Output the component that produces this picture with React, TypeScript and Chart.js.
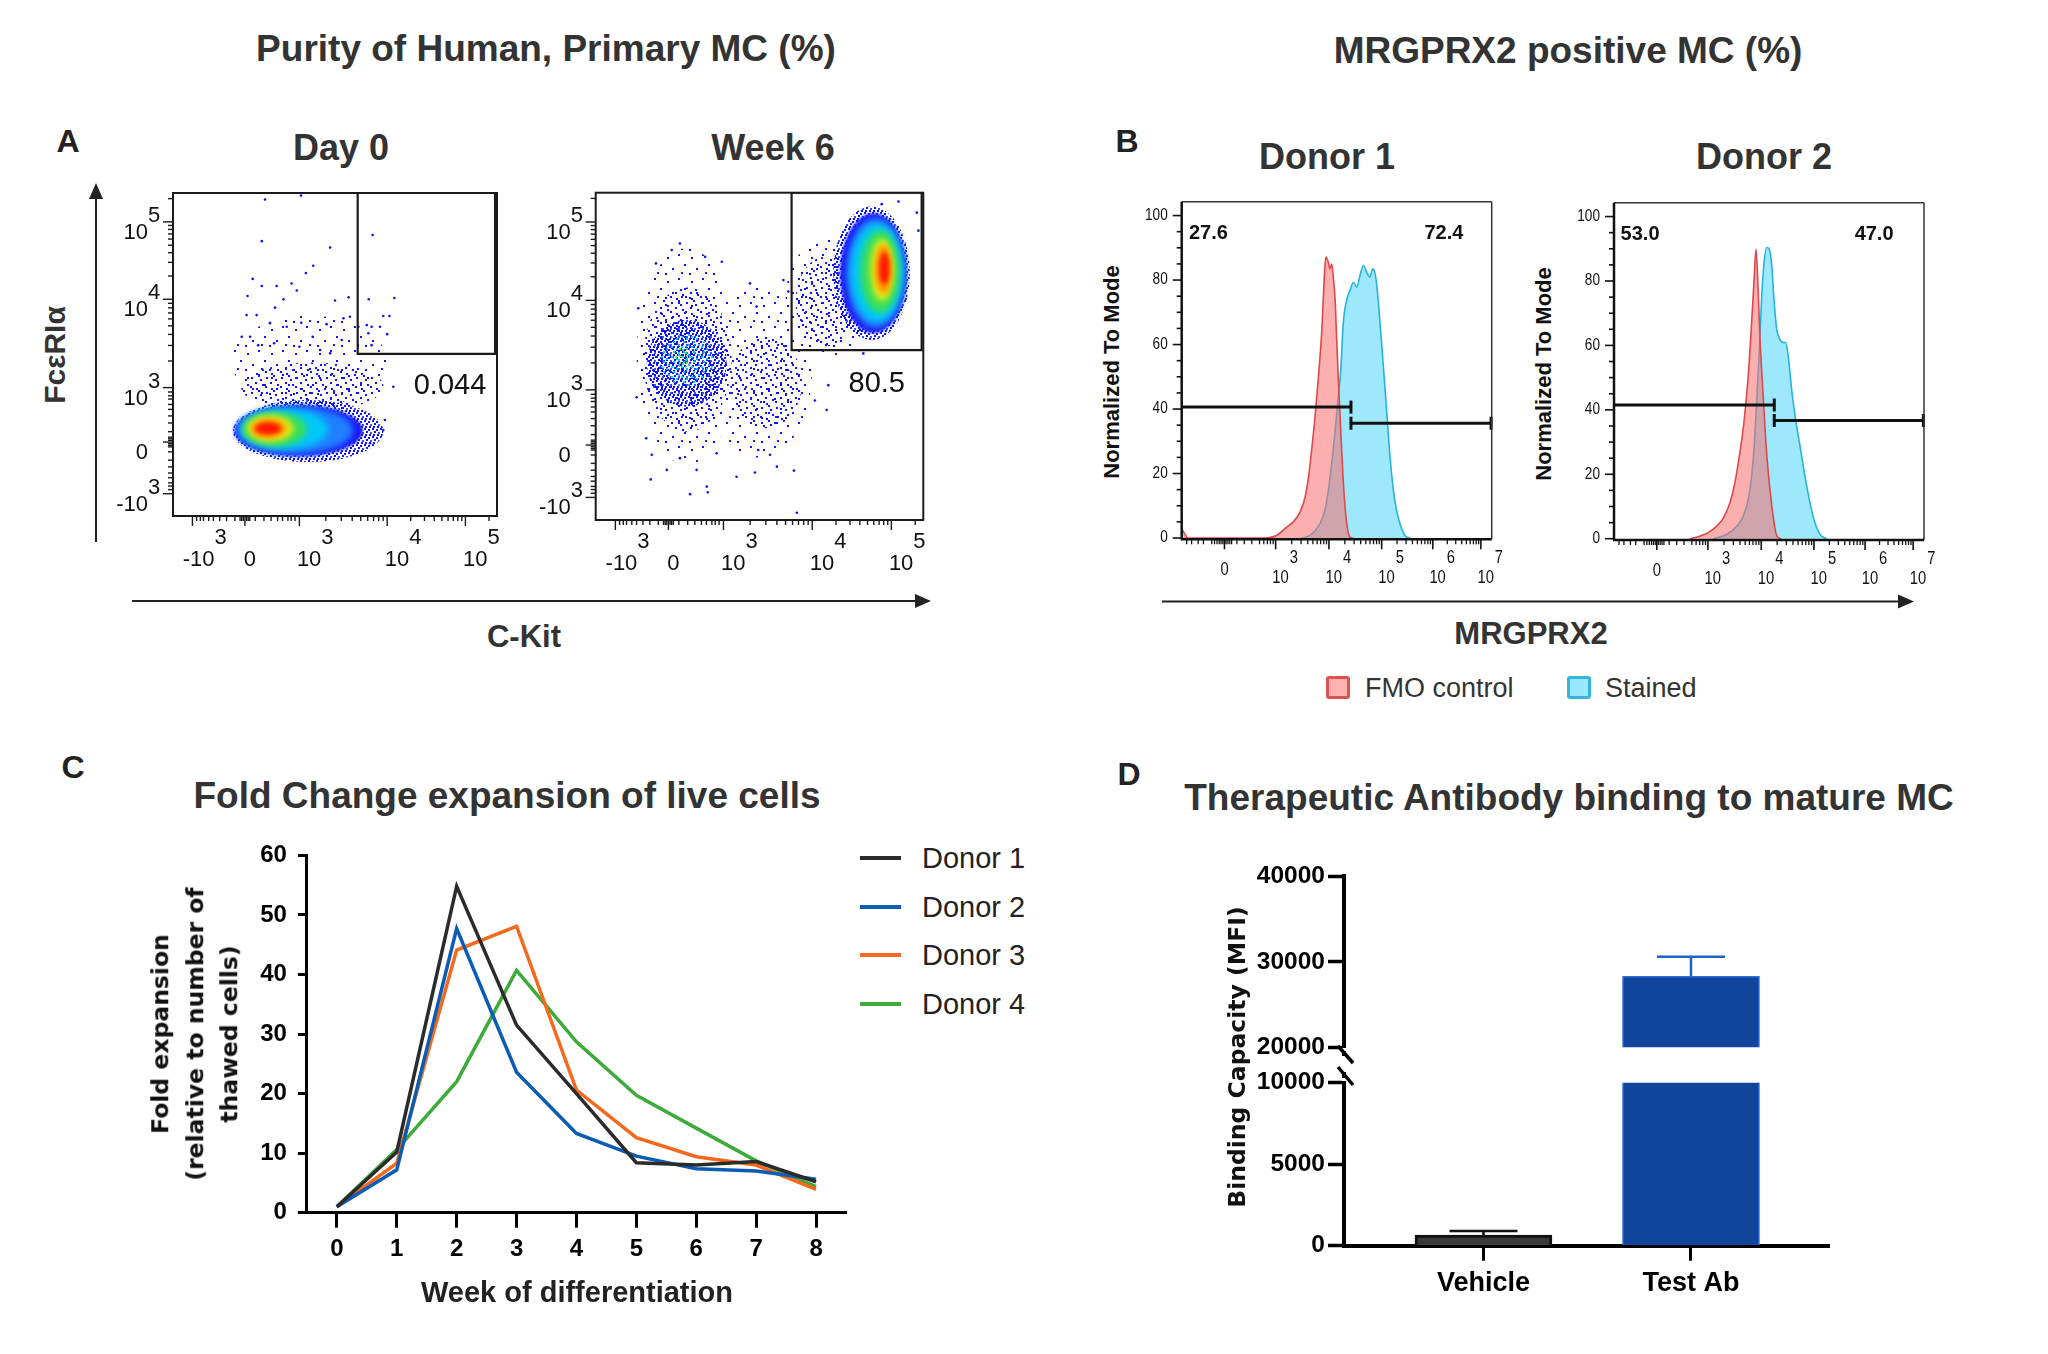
import React, { useEffect, useRef } from 'react';
import { Chart, registerables } from 'chart.js';

Chart.register(...registerables);

const FONT = "'Liberation Sans', Arial, Helvetica, sans-serif";
const WIDE = "'DejaVu Sans', Verdana, sans-serif";
Chart.defaults.font.family = FONT;
Chart.defaults.color = '#000';

// ---------------- Panel A : flow cytometry (display channel units 0-100) ----------------
const A_X_TICKS = [6, 22.2, 39, 66.1, 90.25];
const A_Y_TICKS = [6.9, 22.9, 39.75, 67.1, 91.05];
const A_TICK_BASE = ['-10', '0', '10', '10', '10'];
const A_TICK_EXP = ['3', '', '3', '4', '5'];
const BIEX_LIN_FRACTIONS = [0.19, 0.35, 0.48, 0.6, 0.69, 0.79, 0.85, 0.92];
const BIEX_ZERO_CLUSTER = [-1.5, -1, -0.5, 0.5, 1, 1.5];

// density contours: [level, cx, cy, rx, ry]
const DAY0_DENSITY = [
  [1, 42, 48, 24, 14],
  [2, 43, 40, 22, 7.5],
  [3, 41.7, 26.3, 23.2, 9.6],
  [4, 38.8, 26.4, 19.8, 8.0],
  [5, 37.5, 26.6, 18.0, 7.4],
  [6, 34.5, 26.9, 13.5, 6.2],
  [7, 31.3, 26.9, 10.0, 5.3],
  [8, 30.0, 27.1, 7.2, 4.1],
  [9, 29.5, 27.1, 5.4, 3.0],
  [10, 29.3, 27.1, 4.0, 1.9],
];
const WEEK6_DENSITY = [
  [1, 27.8, 50, 15.3, 33],
  [1, 50, 45, 16, 26],
  [1, 71, 68, 13, 18],
  [2, 28, 49, 13.5, 22],
  [2, 52, 42, 11, 14],
  [2, 70, 66.7, 9, 13.7],
  [3, 27.8, 47.9, 12.2, 13.3],
  [11, 27.8, 48.9, 8.2, 8.2],
  [12, 26.8, 49.9, 2.5, 3.5],
  [3, 84.2, 75.4, 11.7, 20.4],
  [4, 84.8, 75.4, 10.2, 18.3],
  [5, 85.5, 75.5, 9.0, 16.8],
  [6, 85.8, 75.6, 8.0, 15.0],
  [7, 86.8, 75.9, 6.1, 12.7],
  [8, 87.4, 76.4, 3.6, 9.5],
  [9, 87.8, 76.6, 2.6, 7.5],
  [10, 88.1, 76.9, 1.6, 5.0],
];
const DAY0_EVENTS = [
  [28.4, 98.0], [39.5, 99.2], [27.4, 85.1], [48.5, 83.1], [43.3, 77.5], [41.0, 75.2], [61.6, 87.0],
  [24.6, 73.4], [27.4, 71.2], [32.0, 71.2], [36.6, 72.0], [38.2, 69.8], [23.0, 68.1], [34.1, 67.1],
  [50.0, 66.7], [54.2, 67.7], [60.4, 67.1], [68.3, 67.5], [64.9, 61.9], [66.8, 61.9], [59.8, 59.1],
  [61.3, 58.6], [60.3, 56.6], [63.9, 58.6], [66.1, 56.3], [61.3, 52.9], [68.0, 40.0], [65.4, 29.7],
  [64.9, 26.6], [60.8, 22.5], [25.8, 62.2], [22.7, 62.2], [21.2, 55.5], [29.9, 59.7], [35.1, 58.6],
  [39.6, 59.8], [43.1, 55.5], [47.4, 59.4], [52.6, 61.2], [54.6, 61.7], [57.2, 58.6], [31.5, 64.5],
  [23.8, 55.5], [26.3, 52.9], [31.2, 53.5], [39.0, 52.4], [45.4, 51.4], [52.1, 54.5], [48.5, 50.4],
];
const WEEK6_EVENTS = [
  [25.7, 84.5], [23.2, 82.5], [33.4, 80.4], [38.5, 78.9], [18.4, 78.4], [13.0, 64.7], [12.5, 37.5],
  [15.4, 25.0], [17.1, 19.9], [16.8, 12.4], [28.8, 7.9], [34.2, 8.5], [33.9, 10.2], [43.0, 13.2],
  [48.6, 14.5], [55.3, 16.3], [60.5, 15.1], [61.4, 2.2], [71.0, 41.2], [70.5, 33.6], [66.9, 36.5],
  [81.7, 50.9], [98.5, 88.4], [92.4, 97.3], [87.3, 96.5], [98.0, 93.9], [47.1, 72.3], [49.1, 65.2],
  [57.3, 73.3], [58.8, 69.8], [21.7, 15.3], [25.7, 18.9], [30.8, 15.3], [36.9, 20.4], [53.2, 19.9],
  [49.6, 21.4],
];
const DAY0_GATE = [57, 50.2, 99.4, 100];
const WEEK6_GATE = [59.8, 51.9, 99.5, 100];
const DAY0_GATE_PCT = '0.044';
const WEEK6_GATE_PCT = '80.5';
const DAY0_GATE_LABEL = [85.5, 40.3];
const WEEK6_GATE_LABEL = [85.8, 41.6];

// ---------------- Panel B : histograms ----------------
const HIST_X_TICKS = [13.8, 30.3, 47.5, 64.5, 81, 96.5];
const HIST_X_BASE = ['0', '10', '10', '10', '10', '10'];
const HIST_X_EXP = ['', '3', '4', '5', '6', '7'];
const HIST_NEAR0_TICKS = [1.6, 3.2, 5.3, 7.0, 9.7, 10.6, 11.4, 12.1, 12.7, 13.3, 14.3, 14.9, 15.5, 16.1, 17.8, 20.2, 22.6];
const HIST_Y_TICKS = [0, 20, 40, 60, 80, 100];

const D1_FMO = [
  [0, 2.8], [0.8, 1.6], [2, 0], [26.3, 0], [30.6, 0.8], [33.9, 3.4], [36, 5], [38.2, 8.1], [39.8, 12.7],
  [40.9, 18.9], [41.9, 27.2], [43, 37.5], [44.1, 49.9], [45.2, 64.4], [46, 80.9], [46.5, 87.1], [47.3, 85.5],
  [47.8, 83.5], [48.4, 85], [48.9, 80.9], [49.5, 73.7], [50, 61.3], [50.5, 49.9], [51.1, 37.5], [51.6, 27.2],
  [52.1, 17.9], [52.7, 9.6], [53.4, 3.4], [54.3, 0.3], [55.4, 0],
];
const D1_STAINED = [
  [38.7, 0], [41.4, 0.8], [44.6, 4.5], [46.2, 8.6], [47.3, 14.8], [48.4, 23.1], [49.5, 33.4], [50.5, 43.7],
  [51.3, 52], [52.1, 66.4], [53.2, 73.7], [54.3, 76.8], [55.4, 79.3], [56.5, 77.8], [57.5, 81.4], [58.6, 84.5],
  [59.7, 82.4], [60.7, 80.9], [61.6, 83.5], [62.4, 81.9], [63.1, 76.8], [64, 66.4], [65, 54], [66.1, 39.6],
  [67.2, 25.1], [68.3, 14.8], [69.3, 8.6], [70.4, 4.5], [72, 0.8], [73.7, 0],
];
const D2_FMO = [
  [24.5, 0], [27.7, 0.8], [30.4, 1.9], [33.1, 3.9], [35.3, 6.5], [37.4, 11.2], [39, 17.4], [40.6, 26.7],
  [41.9, 36], [43.3, 50.5], [44.4, 67.1], [45.2, 80.5], [45.8, 89.8], [46.5, 77.4], [47.1, 61.9], [48, 46.4],
  [49.3, 25.7], [50.9, 10.2], [52.5, 0.9], [54, 0],
];
const D2_STAINED = [
  [32, 0], [36.3, 1.3], [39.6, 3.9], [41.7, 7], [43.3, 12.2], [44.4, 19.4], [45.3, 29.8], [46, 42.2],
  [46.9, 58.8], [47.6, 74.3], [48.4, 85.7], [49.3, 90.4], [50.1, 89.8], [50.9, 84.7], [51.6, 74.3], [52.5, 65],
  [53.5, 61.9], [54.6, 60.9], [55.4, 60.9], [56.2, 56.7], [57.3, 46.4], [58.4, 38.1], [60, 28.8], [61.6, 19.4],
  [63.2, 11.2], [64.8, 5], [66.5, 1.3], [68.6, 0],
];
const D1_GATES = [[0, 54.6, 40.6], [54.6, 99.8, 35.6]];
const D2_GATES = [[0, 51.7, 41.5], [51.7, 99.8, 36.7]];
const D1_GATE_TEXT = [['27.6', 8.6, 94.3], ['72.4', 84.6, 94.3]];
const D2_GATE_TEXT = [['53.0', 8.4, 94.5], ['47.0', 83.9, 94.5]];
const HIST_SERIES = ['FMO control', 'Stained'];

// ---------------- Panel C : fold expansion ----------------
const WEEKS = [0, 1, 2, 3, 4, 5, 6, 7, 8];
const C_Y_TICKS = [0, 10, 20, 30, 40, 50, 60];
const DONOR_NAMES = ['Donor 1', 'Donor 2', 'Donor 3', 'Donor 4'];
const DONOR1 = [1, 10.2, 54.8, 31.5, 20.0, 8.4, 8.0, 8.6, 5.2];
const DONOR2 = [1, 7.2, 47.7, 23.6, 13.3, 9.5, 7.4, 7.0, 5.6];
const DONOR3 = [1, 8.3, 44.1, 48.1, 20.6, 12.6, 9.4, 8.0, 3.9];
const DONOR4 = [1, 10.6, 22.0, 40.7, 28.7, 19.7, 14.2, 8.7, 4.4];
const DONOR_COLORS = ['#2b2b2b', '#0b5cb5', '#f4691e', '#3dab3a'];

// ---------------- Panel D : binding ----------------
const BAR_LABELS = ['Vehicle', 'Test Ab'];
const BAR_MEANS = [650, 28300];
const BAR_SD = [250, 2300];
const D_LOWER_TICKS = [0, 5000, 10000];
const D_UPPER_TICKS = [20000, 30000, 40000];
const BAR_FILL = ['#3a3a3a', '#11449b'];
const BAR_BORDER = ['#111111', '#2f6fd6'];
const ERR_COLOR = ['#111111', '#1f63c9'];

// ---------------- drawing helpers ----------------
function line(ctx: any, x1: number, y1: number, x2: number, y2: number) {
  ctx.beginPath();
  ctx.moveTo(x1, y1);
  ctx.lineTo(x2, y2);
  ctx.stroke();
}
function narrow(ctx: any, t: string, x: number, y: number, align: string, sx: number) {
  ctx.save();
  ctx.translate(x, y);
  ctx.scale(sx, 1);
  ctx.textAlign = align;
  ctx.fillText(t, 0, 0);
  ctx.restore();
}
function biexMinor(M: number[]) {
  const out: number[] = [];
  for (const f of BIEX_LIN_FRACTIONS) {
    out.push(M[1] + (M[2] - M[1]) * f);
    out.push(M[1] - (M[1] - M[0]) * f);
  }
  for (const o of BIEX_ZERO_CLUSTER) out.push(M[1] + o);
  for (let d = 2; d < 4; d++) for (let k = 2; k <= 9; k++) out.push(M[d] + (M[d + 1] - M[d]) * Math.log10(k));
  for (let k = 2; k <= 9; k++) {
    const v = M[4] + (M[4] - M[3]) * Math.log10(k);
    if (v < 99.5) out.push(v);
  }
  return out;
}
function histMinor() {
  const H = HIST_X_TICKS;
  const out: number[] = [...HIST_NEAR0_TICKS];
  for (let k = 5; k <= 9; k++) out.push(H[1] - (H[2] - H[1]) * (1 - Math.log10(k)));
  for (let d = 1; d < 5; d++) for (let k = 2; k <= 9; k++) out.push(H[d] + (H[d + 1] - H[d]) * Math.log10(k));
  return out;
}

const BLUE = '#1212ff';
const PATTERNS: Record<string, { size: number; dots: any[] }> = {
  p1: { size: 24, dots: [[3, 5, BLUE], [14, 2, BLUE], [20, 12, BLUE], [8, 16, BLUE], [17, 20, BLUE], [1, 21, BLUE]] },
  p2: { size: 15, dots: [[1, 2, BLUE], [8, 0, BLUE], [5, 7, BLUE], [12, 9, BLUE], [0, 11, BLUE], [10, 4, BLUE], [6, 13, BLUE]] },
  p3: { size: 8, dots: [[0, 0, BLUE], [4, 1, BLUE], [2, 3, BLUE], [6, 4, '#2a55ff'], [1, 6, BLUE], [5, 6, BLUE]] },
  pc: { size: 10, dots: [[3, 1, '#00c8ff'], [8, 4, '#30a8ff'], [1, 6, '#00e0ff'], [6, 8, '#10b8ff']] },
  pg: { size: 7, dots: [[1, 1, '#40e080'], [4, 4, '#00e0c0'], [5, 0, '#80e040']] },
};
const LEVEL_STYLES: Record<number, any> = {
  1: { pattern: 'p1' }, 2: { pattern: 'p2' }, 3: { pattern: 'p3' },
  4: { color: '#1a1aff', blur: 1.5 }, 5: { color: '#2080ff', blur: 3 }, 6: { color: '#00c8f8', blur: 3 },
  7: { color: '#36df5a', blur: 3 }, 8: { color: '#e8ea14', blur: 3 }, 9: { color: '#ff9800', blur: 2.5 },
  10: { color: '#ff1a00', blur: 2 }, 11: { pattern: 'pc' }, 12: { pattern: 'pg' },
};
function getPattern(ctx: any, key: string) {
  const spec = PATTERNS[key];
  const c = document.createElement('canvas');
  c.width = spec.size;
  c.height = spec.size;
  const g = c.getContext('2d')!;
  for (const [x, y, col] of spec.dots) {
    g.fillStyle = col;
    g.fillRect(x, y, 2, 2);
  }
  return ctx.createPattern(c, 'repeat');
}

function densityPlugin(layers: number[][]) {
  return {
    id: 'flowDensity',
    beforeDatasetsDraw(chart: any) {
      const { ctx, chartArea: a, scales } = chart;
      const x = scales.x, y = scales.y;
      ctx.save();
      ctx.beginPath();
      ctx.rect(a.left, a.top, a.right - a.left, a.bottom - a.top);
      ctx.clip();
      for (const [lvl, cx, cy, rx, ry] of layers) {
        const st = LEVEL_STYLES[lvl];
        const px = x.getPixelForValue(cx), py = y.getPixelForValue(cy);
        const prx = Math.abs(x.getPixelForValue(cx + rx) - px);
        const pry = Math.abs(y.getPixelForValue(cy + ry) - py);
        ctx.filter = st.blur ? `blur(${st.blur}px)` : 'none';
        ctx.fillStyle = st.pattern ? getPattern(ctx, st.pattern) : st.color;
        ctx.beginPath();
        ctx.ellipse(px, py, prx, pry, 0, 0, Math.PI * 2);
        ctx.fill();
      }
      ctx.filter = 'none';
      ctx.restore();
    },
  };
}

function scatterAxesPlugin(gateText: string, gateLabel: number[]) {
  return {
    id: 'scatterAxes',
    afterDatasetsDraw(chart: any) {
      const { ctx, chartArea: a, scales } = chart;
      const x = scales.x, y = scales.y;
      ctx.save();
      ctx.fillStyle = '#111';
      ctx.textBaseline = 'middle';
      ctx.font = `29px ${FONT}`;
      ctx.textAlign = 'center';
      ctx.fillText(gateText, x.getPixelForValue(gateLabel[0]), y.getPixelForValue(gateLabel[1]));
      ctx.strokeStyle = '#1a1a1a';
      ctx.lineWidth = 2;
      ctx.strokeRect(a.left, a.top, a.right - a.left, a.bottom - a.top);
      ctx.lineWidth = 1.4;
      for (const v of A_X_TICKS) { const p = x.getPixelForValue(v); line(ctx, p, a.bottom, p, a.bottom + 10); }
      for (const v of biexMinor(A_X_TICKS)) { const p = x.getPixelForValue(v); line(ctx, p, a.bottom, p, a.bottom + 5); }
      for (const v of A_Y_TICKS) { const p = y.getPixelForValue(v); line(ctx, a.left, p, a.left - 10, p); }
      for (const v of biexMinor(A_Y_TICKS)) { const p = y.getPixelForValue(v); line(ctx, a.left, p, a.left - 5, p); }
      ctx.font = `22px ${FONT}`;
      A_X_TICKS.forEach((v, i) => {
        const p = x.getPixelForValue(v);
        if (A_TICK_EXP[i]) {
          ctx.textAlign = 'right';
          ctx.fillText(A_TICK_BASE[i], p + 22, a.bottom + 43.5);
          ctx.textAlign = 'left';
          ctx.fillText(A_TICK_EXP[i], p + 22, a.bottom + 22);
        } else {
          ctx.textAlign = 'center';
          ctx.fillText(A_TICK_BASE[i], p + 5, a.bottom + 43.5);
        }
      });
      A_Y_TICKS.forEach((v, i) => {
        const p = y.getPixelForValue(v);
        ctx.textAlign = 'right';
        ctx.fillText(A_TICK_BASE[i], a.left - 25, p + 11);
        if (A_TICK_EXP[i]) {
          ctx.textAlign = 'left';
          ctx.fillText(A_TICK_EXP[i], a.left - 25, p - 6);
        }
      });
      ctx.restore();
    },
  };
}

function histAxesPlugin(gates: number[][], texts: any[]) {
  return {
    id: 'histAxes',
    afterDatasetsDraw(chart: any) {
      const { ctx, chartArea: a, scales } = chart;
      const x = scales.x, y = scales.y;
      ctx.save();
      ctx.strokeStyle = '#111';
      ctx.lineWidth = 3;
      for (const [x1, x2, yv] of gates) {
        const p1 = x.getPixelForValue(x1), p2 = x.getPixelForValue(x2), py = y.getPixelForValue(yv);
        line(ctx, p1, py, p2, py);
        if (x1 > 0) line(ctx, p1, py - 6.5, p1, py + 6.5);
        if (x2 > 0) line(ctx, p2, py - 6.5, p2, py + 6.5);
      }
      ctx.fillStyle = '#111';
      ctx.font = `bold 20px ${FONT}`;
      ctx.textAlign = 'center';
      ctx.textBaseline = 'middle';
      for (const [t, tx, ty] of texts) ctx.fillText(t, x.getPixelForValue(tx), y.getPixelForValue(ty));
      ctx.strokeStyle = '#333';
      ctx.lineWidth = 1.5;
      line(ctx, a.left, a.top, a.right, a.top);
      line(ctx, a.right, a.top, a.right, a.bottom);
      ctx.strokeStyle = '#111';
      ctx.lineWidth = 2.5;
      line(ctx, a.left, a.top, a.left, a.bottom);
      line(ctx, a.left - 1, a.bottom, a.right, a.bottom);
      ctx.lineWidth = 1.6;
      for (let v = 0; v <= 100; v += 5) {
        const p = y.getPixelForValue(v);
        line(ctx, a.left, p, a.left - (v % 20 === 0 ? 9 : 5), p);
      }
      ctx.font = `16px ${FONT}`;
      for (const v of HIST_Y_TICKS) narrow(ctx, String(v), a.left - 14, y.getPixelForValue(v), 'right', 0.85);
      for (const v of HIST_X_TICKS) { const p = x.getPixelForValue(v); line(ctx, p, a.bottom, p, a.bottom + 10); }
      ctx.lineWidth = 1.3;
      for (const v of histMinor()) { const p = x.getPixelForValue(v); line(ctx, p, a.bottom, p, a.bottom + 5); }
      ctx.font = `18px ${FONT}`;
      HIST_X_TICKS.forEach((v, i) => {
        const p = x.getPixelForValue(v);
        if (HIST_X_EXP[i]) {
          narrow(ctx, HIST_X_BASE[i], p + 13, a.bottom + 39, 'right', 0.82);
          narrow(ctx, HIST_X_EXP[i], p + 14, a.bottom + 19, 'left', 0.82);
        } else {
          narrow(ctx, HIST_X_BASE[i], p, a.bottom + 31, 'center', 0.82);
        }
      });
      ctx.restore();
    },
  };
}

function errorBarPlugin() {
  return {
    id: 'errBars',
    afterDatasetsDraw(chart: any) {
      const { ctx, scales } = chart;
      const x = scales.x, y = scales.y;
      ctx.save();
      BAR_MEANS.forEach((m, i) => {
        if (m < y.min || m > y.max) return;
        const top = m + BAR_SD[i];
        const px = x.getPixelForValue(i);
        const p1 = y.getPixelForValue(m);
        const p2 = y.getPixelForValue(Math.min(top, y.max));
        ctx.strokeStyle = ERR_COLOR[i];
        ctx.lineWidth = 2.5;
        line(ctx, px, p1, px, p2);
        if (top <= y.max) line(ctx, px - 34, p2, px + 34, p2);
      });
      ctx.restore();
    },
  };
}

const BASE_OPTS = {
  responsive: false,
  animation: false,
  devicePixelRatio: 1,
  events: [],
};
const NO_PLUGINS = { legend: { display: false }, tooltip: { enabled: false } };

function pad(cx: number, cy: number, w: number, h: number, L: number, T: number, R: number, B: number) {
  return { left: L - cx, top: T - cy, right: cx + w - R, bottom: cy + h - B };
}

function scatterConfig(box: number[], cv: number[], density: number[][], events: number[][], gate: number[], pct: string, pctPos: number[]) {
  const [L, T, R, B] = box;
  const [cx, cy, w, h] = cv;
  return {
    type: 'scatter',
    data: {
      datasets: [
        {
          data: [
            { x: gate[0], y: gate[3] }, { x: gate[0], y: gate[1] }, { x: gate[2], y: gate[1] },
            { x: gate[2], y: gate[3] }, { x: gate[0], y: gate[3] },
          ],
          showLine: true, borderColor: '#1a1a1a', borderWidth: 2.2, pointRadius: 0, fill: false,
        },
        {
          data: events.map(([x, y]) => ({ x, y })),
          pointRadius: 1.3, backgroundColor: '#1010ff', borderWidth: 0,
        },
      ],
    },
    options: {
      ...BASE_OPTS,
      layout: { padding: pad(cx, cy, w, h, L, T, R, B) },
      plugins: NO_PLUGINS,
      scales: {
        x: { type: 'linear', min: 0, max: 100, display: false },
        y: { type: 'linear', min: 0, max: 100, display: false },
      },
    },
    plugins: [densityPlugin(density), scatterAxesPlugin(pct, pctPos)],
  };
}

function histConfig(box: number[], cv: number[], fmo: number[][], stained: number[][], gates: number[][], texts: any[]) {
  const [L, T, R, B] = box;
  const [cx, cy, w, h] = cv;
  return {
    type: 'line',
    data: {
      datasets: [
        {
          label: HIST_SERIES[0], data: fmo.map(([x, y]) => ({ x, y })), borderColor: '#e0474c',
          backgroundColor: 'rgba(250,110,110,0.55)', fill: 'origin', borderWidth: 1.6, pointRadius: 0,
          cubicInterpolationMode: 'monotone',
        },
        {
          label: HIST_SERIES[1], data: stained.map(([x, y]) => ({ x, y })), borderColor: '#26b4dd',
          backgroundColor: 'rgba(60,210,245,0.5)', fill: 'origin', borderWidth: 1.6, pointRadius: 0,
          cubicInterpolationMode: 'monotone',
        },
      ],
    },
    options: {
      ...BASE_OPTS,
      layout: { padding: pad(cx, cy, w, h, L, T, R, B) },
      plugins: NO_PLUGINS,
      scales: {
        x: { type: 'linear', min: 0, max: 100, display: false },
        y: { type: 'linear', min: -0.4, max: 104.3, display: false },
      },
    },
    plugins: [histAxesPlugin(gates, texts)],
  };
}

function lineChartConfig() {
  const series = [DONOR1, DONOR2, DONOR3, DONOR4];
  return {
    type: 'line',
    data: {
      datasets: series.map((s, i) => ({
        label: DONOR_NAMES[i],
        data: WEEKS.map((w, j) => ({ x: w, y: s[j] })),
        borderColor: DONOR_COLORS[i], borderWidth: 3.5, pointRadius: 0, tension: 0, fill: false,
      })),
    },
    options: {
      ...BASE_OPTS,
      layout: { padding: { top: 25, right: 14, left: 0, bottom: 0 } },
      plugins: NO_PLUGINS,
      scales: {
        x: {
          type: 'linear', min: -0.5, max: 8.5,
          afterBuildTicks: (s: any) => { s.ticks = WEEKS.map((v) => ({ value: v })); },
          afterFit: (s: any) => { s.height = 67.3; },
          border: { display: true, width: 3, color: '#000' },
          grid: { display: true, drawOnChartArea: false, drawTicks: true, tickLength: 15, tickWidth: 3, tickColor: '#000' },
          ticks: { autoSkip: false, maxRotation: 0, padding: 7, color: '#000', font: { size: 24, weight: 'bold', family: FONT }, callback: (v: any) => String(v) },
        },
        y: {
          type: 'linear', min: 0, max: 60,
          afterBuildTicks: (s: any) => { s.ticks = C_Y_TICKS.map((v) => ({ value: v })); },
          afterFit: (s: any) => { s.width = 126.9; },
          border: { display: true, width: 3, color: '#000' },
          grid: { display: true, drawOnChartArea: false, drawTicks: true, tickLength: 9, tickWidth: 3, tickColor: '#000' },
          ticks: { padding: 11, color: '#000', font: { size: 24, weight: 'bold', family: FONT }, callback: (v: any) => String(v) },
        },
      },
    },
  };
}

function barConfig(upper: boolean) {
  const ticks = upper ? D_UPPER_TICKS : D_LOWER_TICKS;
  const min = ticks[0], max = ticks[ticks.length - 1];
  return {
    type: 'bar',
    data: {
      datasets: [{
        label: 'Binding Capacity (MFI)',
        data: BAR_MEANS.map((m, i) => ({ x: i, y: m >= min ? m : null })),
        backgroundColor: BAR_FILL, borderColor: BAR_BORDER, borderWidth: [3, 1.5],
        barThickness: 137, borderSkipped: 'start',
      }],
    },
    options: {
      ...BASE_OPTS,
      layout: { padding: upper ? { top: 26.4, right: 31, left: 0, bottom: 13.6 } : { top: 12.5, right: 31, left: 0, bottom: 0 } },
      plugins: NO_PLUGINS,
      scales: {
        x: {
          type: 'linear', min: -0.672, max: 1.665, offset: false, display: !upper,
          afterBuildTicks: (s: any) => { s.ticks = BAR_LABELS.map((_, i) => ({ value: i })); },
          afterFit: (s: any) => { s.height = upper ? 0 : 69.3; },
          border: { display: true, width: 4, color: '#000' },
          grid: { display: true, offset: false, drawOnChartArea: false, drawTicks: true, tickLength: 15, tickWidth: 3, tickColor: '#000' },
          ticks: { autoSkip: false, maxRotation: 0, padding: 7, color: '#000', font: { size: 27, weight: 'bold', family: FONT }, callback: (v: any) => BAR_LABELS[v] ?? '' },
        },
        y: {
          type: 'linear', min, max,
          afterBuildTicks: (s: any) => { s.ticks = ticks.map((v) => ({ value: v })); },
          afterFit: (s: any) => { s.width = 164; },
          border: { display: true, width: 4, color: '#000' },
          grid: { display: true, drawOnChartArea: false, drawTicks: true, tickLength: 16, tickWidth: 3.5, tickColor: '#000' },
          ticks: { padding: 3, color: '#000', font: { size: 24.5, weight: 'bold', family: FONT }, callback: (v: any) => String(v) },
        },
      },
    },
    plugins: [errorBarPlugin()],
  };
}

function ChartBox({ x, y, w, h, make }: { x: number; y: number; w: number; h: number; make: () => any }) {
  const ref = useRef<HTMLCanvasElement>(null);
  useEffect(() => {
    const chart = new Chart(ref.current as HTMLCanvasElement, make());
    return () => chart.destroy();
  }, []);
  return <canvas ref={ref} width={w} height={h} style={{ position: 'absolute', left: x, top: y, width: w, height: h }} />;
}

function Txt({ x, y, children, size, weight = 700, color = '#333', rot = false, family = FONT, lh = 1, anchor = 'center' }: any) {
  const tx = anchor === 'left' ? '0' : '-50%';
  return (
    <div style={{
      position: 'absolute', left: x, top: y, transform: `translate(${tx}, -50%)${rot ? ' rotate(-90deg)' : ''}`,
      fontSize: size, fontWeight: weight, color, fontFamily: family, lineHeight: lh, whiteSpace: 'pre', textAlign: 'center',
    }}>{children}</div>
  );
}

export default function App() {
  useEffect(() => {
    document.body.style.margin = '0';
    document.body.style.overflow = 'hidden';
  }, []);
  const DAY0_CV = [100, 180, 410, 400];
  const WEEK6_CV = [520, 180, 420, 405];
  const H1_CV = [1130, 190, 375, 400];
  const H2_CV = [1565, 190, 375, 400];
  return (
    <div style={{ position: 'absolute', left: 0, top: 0, width: 2048, height: 1354, background: '#fff', overflow: 'hidden', fontFamily: FONT }}>
      <ChartBox x={DAY0_CV[0]} y={DAY0_CV[1]} w={DAY0_CV[2]} h={DAY0_CV[3]}
        make={() => scatterConfig([173, 193, 497, 516], DAY0_CV, DAY0_DENSITY, DAY0_EVENTS, DAY0_GATE, DAY0_GATE_PCT, DAY0_GATE_LABEL)} />
      <ChartBox x={WEEK6_CV[0]} y={WEEK6_CV[1]} w={WEEK6_CV[2]} h={WEEK6_CV[3]}
        make={() => scatterConfig([595.7, 192.7, 923.3, 520], WEEK6_CV, WEEK6_DENSITY, WEEK6_EVENTS, WEEK6_GATE, WEEK6_GATE_PCT, WEEK6_GATE_LABEL)} />
      <ChartBox x={H1_CV[0]} y={H1_CV[1]} w={H1_CV[2]} h={H1_CV[3]}
        make={() => histConfig([1181.7, 201.7, 1491.7, 539.3], H1_CV, D1_FMO, D1_STAINED, D1_GATES, D1_GATE_TEXT)} />
      <ChartBox x={H2_CV[0]} y={H2_CV[1]} w={H2_CV[2]} h={H2_CV[3]}
        make={() => histConfig([1614, 202.7, 1924, 540], H2_CV, D2_FMO, D2_STAINED, D2_GATES, D2_GATE_TEXT)} />
      <ChartBox x={180} y={830} w={680} h={450} make={lineChartConfig} />
      <ChartBox x={1180} y={850} w={680} h={215} make={() => barConfig(true)} />
      <ChartBox x={1180} y={1065} w={680} h={250} make={() => barConfig(false)} />

      <Txt x={546} y={48} size={37}>Purity of Human, Primary MC (%)</Txt>
      <Txt x={1568} y={50} size={37}>MRGPRX2 positive MC (%)</Txt>
      <Txt x={68} y={141} size={32} color="#222">A</Txt>
      <Txt x={341} y={148} size={36}>Day 0</Txt>
      <Txt x={773} y={148} size={36}>Week 6</Txt>
      <Txt x={55} y={355} size={30} rot>FcεRIα</Txt>
      <Txt x={524} y={636} size={31}>C-Kit</Txt>

      <Txt x={1127} y={141} size={32} color="#222">B</Txt>
      <Txt x={1327} y={157} size={36}>Donor 1</Txt>
      <Txt x={1764} y={157} size={36}>Donor 2</Txt>
      <Txt x={1112} y={372} size={22} color="#111" rot>Normalized To Mode</Txt>
      <Txt x={1544} y={374} size={22} color="#111" rot>Normalized To Mode</Txt>
      <Txt x={1531} y={633} size={31}>MRGPRX2</Txt>
      <div style={{ position: 'absolute', left: 1326, top: 676, width: 18, height: 17, background: '#ffb0b0', border: '3px solid #d9534f', borderRadius: 3 }} />
      <Txt x={1365} y={688} size={27} weight={400} anchor="left">{HIST_SERIES[0]}</Txt>
      <div style={{ position: 'absolute', left: 1567, top: 676, width: 18, height: 17, background: '#98e8ff', border: '3px solid #35b5dc', borderRadius: 3 }} />
      <Txt x={1605} y={688} size={27} weight={400} anchor="left">{HIST_SERIES[1]}</Txt>

      <Txt x={73} y={767} size={32} color="#222">C</Txt>
      <Txt x={507} y={795} size={37}>Fold Change expansion of live cells</Txt>
      <Txt x={194.5} y={1034} size={23.5} color="#111" family={WIDE} lh="34.5px" rot>{'Fold expansion\n(relative to number of\nthawed cells)'}</Txt>
      <Txt x={577} y={1292} size={29} color="#222">Week of differentiation</Txt>
      {DONOR_NAMES.map((n, i) => (
        <React.Fragment key={n}>
          <div style={{ position: 'absolute', left: 860, top: 858 + i * 48.7 - 2, width: 41, height: 4, background: DONOR_COLORS[i] }} />
          <Txt x={922} y={858 + i * 48.7} size={29} weight={400} color="#222" anchor="left">{n}</Txt>
        </React.Fragment>
      ))}

      <Txt x={1129} y={774} size={32} color="#222">D</Txt>
      <Txt x={1569} y={797} size={37}>Therapeutic Antibody binding to mature MC</Txt>
      <Txt x={1238} y={1057} size={23.5} color="#111" family={WIDE} rot>Binding Capacity (MFI)</Txt>

      <svg width={2048} height={1354} style={{ position: 'absolute', left: 0, top: 0, pointerEvents: 'none' }}>
        <line x1={96} y1={542} x2={96} y2={196} stroke="#222" strokeWidth={2} />
        <polygon points="96,183 89,199 103,199" fill="#222" />
        <line x1={132} y1={601} x2={917} y2={601} stroke="#222" strokeWidth={2} />
        <polygon points="931,601 915,594 915,608" fill="#222" />
        <line x1={1162} y1={601.5} x2={1899} y2={601.5} stroke="#222" strokeWidth={2} />
        <polygon points="1914,601.5 1898,594.5 1898,608.5" fill="#222" />
        <line x1={1344} y1={1051} x2={1344} y2={1056} stroke="#000" strokeWidth={4} />
        <line x1={1344} y1={1072} x2={1344} y2={1078} stroke="#000" strokeWidth={4} />
        <line x1={1338} y1={1046} x2={1353} y2={1063} stroke="#000" strokeWidth={3.5} />
        <line x1={1338} y1={1067} x2={1353} y2={1085} stroke="#000" strokeWidth={3.5} />
      </svg>
    </div>
  );
}
